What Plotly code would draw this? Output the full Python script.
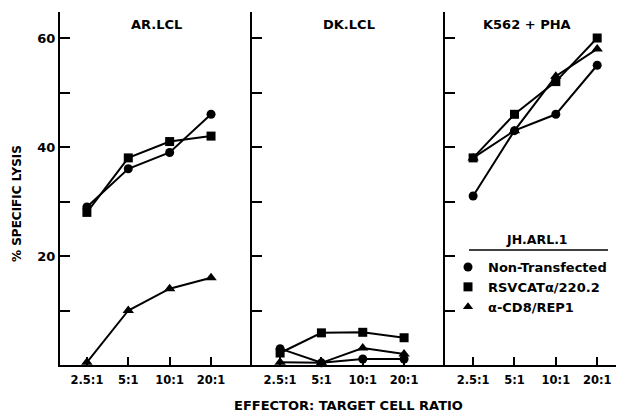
import plotly.graph_objects as go

ratios = ["2.5:1", "5:1", "10:1", "20:1"]

panel_titles = ["AR.LCL", "DK.LCL", "K562 + PHA"]

legend_title = "JH.ARL.1"
series_names = ["Non-Transfected", "RSVCATα/220.2", "α-CD8/REP1"]
series_symbols = ["circle", "square", "triangle-up"]

ar_non = [29, 36, 39, 46]
ar_rsv = [28, 38, 41, 42]
ar_cd8 = [0.5, 10, 14, 16]

dk_non = [3, 0.4, 1.1, 1.1]
dk_rsv = [2.2, 5.9, 6, 5]
dk_cd8 = [0.5, 0.4, 3.1, 2]

k5_non = [31, 43, 46, 55]
k5_rsv = [38, 46, 52, 60]
k5_cd8 = [38, 43, 53, 58]

panels = [
    [ar_non, ar_rsv, ar_cd8],
    [dk_non, dk_rsv, dk_cd8],
    [k5_non, k5_rsv, k5_cd8],
]

ytick_vals = [10, 20, 30, 40, 50, 60]
ytick_text = ["", "20", "", "40", "", "60"]

# page offset of the figure inside the browser window
OFF = 8
W, H = 624 - OFF, 414 - OFF
L, R, T, B = 60 - OFF, 2, 12 - OFF, 49
pw = W - L - R
ph = H - T - B


def px_x(p):
    return (p - OFF - L) / pw


def px_y(p):
    return (H - B - (p - OFF)) / ph


edges = [60, 252, 445, 622]
domains = [[px_x(edges[i]), px_x(edges[i + 1])] for i in range(3)]
xranges = [[-0.65, 3.99], [-0.68, 3.99], [-0.68, 3.6]]

font_fam = "DejaVu Sans, Verdana, sans-serif"

fig = go.Figure()

for pi, data in enumerate(panels):
    xa = "x" if pi == 0 else f"x{pi + 1}"
    ya = "y" if pi == 0 else f"y{pi + 1}"
    for si, vals in enumerate(data):
        fig.add_trace(go.Scatter(
            x=ratios, y=vals, mode="lines+markers",
            xaxis=xa, yaxis=ya,
            line=dict(color="black", width=2),
            marker=dict(symbol=series_symbols[si], size=9 if si < 2 else 10, color="black"),
            showlegend=False, cliponaxis=False,
        ))

for si in range(3):
    fig.add_trace(go.Scatter(
        x=[None], y=[None], mode="markers", name=series_names[si],
        marker=dict(symbol=series_symbols[si], size=9, color="black"),
        showlegend=True,
    ))

layout = dict(
    width=W, height=H,
    margin=dict(l=L, r=R, t=T, b=B),
    paper_bgcolor="white", plot_bgcolor="white",
    font=dict(family=font_fam, size=12, color="black", weight="bold"),
    legend=dict(
        x=px_x(448), y=px_y(252), xanchor="left", yanchor="top",
        font=dict(size=13, weight="bold"),
        bgcolor="rgba(0,0,0,0)", itemwidth=30,
    ),
)

for pi in range(3):
    xk = "xaxis" if pi == 0 else f"xaxis{pi + 1}"
    yk = "yaxis" if pi == 0 else f"yaxis{pi + 1}"
    xa_anchor = "x" if pi == 0 else f"x{pi + 1}"
    ya_anchor = "y" if pi == 0 else f"y{pi + 1}"
    layout[xk] = dict(
        domain=domains[pi], anchor=ya_anchor, type="category",
        range=xranges[pi], showline=True, linecolor="black", linewidth=2,
        ticks="inside", ticklen=8, tickwidth=2, tickcolor="black",
        showgrid=False, zeroline=False, tickfont=dict(size=11.5, weight="bold"),
        ticklabelstandoff=3, fixedrange=True,
    )
    layout[yk] = dict(
        domain=[0, 1], anchor=xa_anchor, range=[0, ph / 5.45],
        showline=True, linecolor="black", linewidth=2,
        ticks="inside", ticklen=10, tickwidth=1.5, tickcolor="black",
        tickvals=ytick_vals, ticktext=ytick_text if pi == 0 else [""] * 6,
        showticklabels=(pi == 0),
        showgrid=False, zeroline=False, tickfont=dict(size=13, weight="bold"),
        fixedrange=True,
    )

fig.update_layout(**layout)

title_centers = [156, 349, 527]
for pi, t in enumerate(panel_titles):
    fig.add_annotation(
        text=t, xref="paper", yref="paper", x=px_x(title_centers[pi]), y=px_y(24),
        showarrow=False, font=dict(size=13, weight="bold"), xanchor="center", yanchor="middle",
    )

fig.add_annotation(
    text=legend_title, xref="paper", yref="paper", x=px_x(537), y=px_y(239),
    showarrow=False, font=dict(size=12.5, weight="bold"), xanchor="center", yanchor="middle",
)

fig.add_annotation(
    text="% SPECIFIC LYSIS", xref="paper", yref="paper", x=px_x(17), y=px_y(204),
    showarrow=False, textangle=-90, font=dict(size=12, weight="bold"),
    xanchor="center", yanchor="middle",
)
fig.add_annotation(
    text="EFFECTOR: TARGET CELL RATIO", xref="paper", yref="paper", x=px_x(348), y=px_y(405),
    showarrow=False, font=dict(size=13, weight="bold"),
    xanchor="center", yanchor="middle",
)

fig.add_shape(
    type="line", xref="paper", yref="paper",
    x0=px_x(469), x1=px_x(608), y0=px_y(250), y1=px_y(250),
    line=dict(color="black", width=1.5),
)

fig.write_html("out.html")
